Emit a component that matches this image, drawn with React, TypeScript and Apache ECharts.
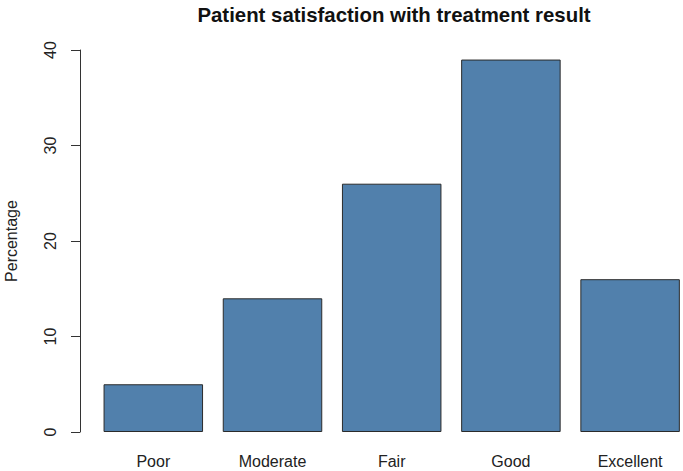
import React, { useEffect, useRef } from "react";
import * as echarts from "echarts";

const categories = ["Poor", "Moderate", "Fair", "Good", "Excellent"];
const percentages = [5, 14, 26, 39, 16];
const yTicks = { min: 0, max: 40, interval: 10 };
const titleText = "Patient satisfaction with treatment result";
const yName = "Percentage";

export default function App() {
  const ref = useRef<HTMLDivElement>(null);
  useEffect(() => {
    if (!ref.current) return;
    const chart = echarts.init(ref.current, null, { renderer: "svg" });
    const font = "'Liberation Sans', Arial, sans-serif";
    chart.setOption({
      animation: false,
      backgroundColor: "#ffffff",
      title: {
        text: titleText,
        left: 389,
        top: 0,
        textAlign: "center",
        textStyle: { fontFamily: font, fontSize: 20.4, fontWeight: "bold", color: "#111" },
      },
      grid: { left: 93.7, top: 50, width: 596, height: 382, containLabel: false, outerBoundsMode: "none" },
      xAxis: {
        type: "category",
        data: categories,
        axisLine: { show: false },
        axisTick: { show: false },
        axisLabel: { fontFamily: font, fontSize: 16, color: "#222", margin: 21 },
        splitLine: { show: false },
      },
      yAxis: {
        type: "value",
        min: yTicks.min,
        max: yTicks.max,
        interval: yTicks.interval,
        offset: 13.7,
        name: yName,
        nameLocation: "middle",
        nameRotate: 90,
        nameGap: 61,
        nameTextStyle: { fontFamily: font, fontSize: 16, color: "#222" },
        axisLine: { show: true, lineStyle: { color: "#333", width: 1 } },
        axisTick: { show: true, inside: false, length: 9, lineStyle: { color: "#333", width: 1 } },
        axisLabel: { fontFamily: font, fontSize: 16, color: "#222", rotate: 90, margin: 22 },
        splitLine: { show: false },
      },
      series: [
        {
          type: "bar",
          data: percentages,
          barWidth: 99.5,
          itemStyle: { color: "#5180AC", borderColor: "#2b2b2b", borderWidth: 1 },
        },
      ],
    });
    return () => chart.dispose();
  }, []);
  return <div ref={ref} style={{ width: 683, height: 471, position: "absolute", left: 0, top: 0 }} />;
}
